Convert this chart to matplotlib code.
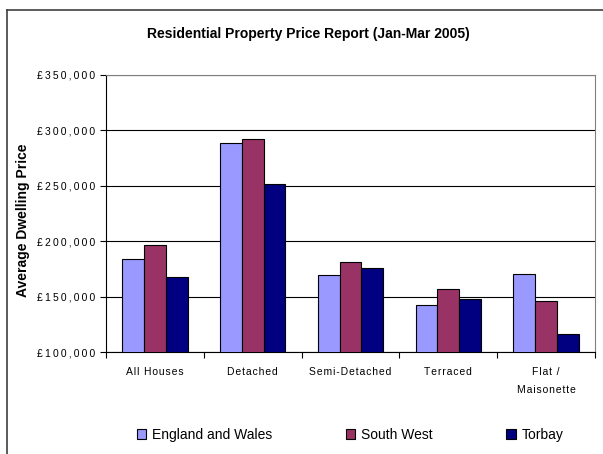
import numpy as np
import matplotlib
matplotlib.use("Agg")
import matplotlib.pyplot as plt
from matplotlib.lines import Line2D
from matplotlib.ticker import FuncFormatter

plt.rcParams["font.family"] = ["Liberation Sans", "DejaVu Sans"]

# ---------------------------------------------------------------------------
# Data
# ---------------------------------------------------------------------------
categories = ["All Houses", "Detached", "Semi-Detached", "Terraced", "Flat /\nMaisonette"]
series_names = ["England and Wales", "South West", "Torbay"]
england_wales = [184000, 288600, 169200, 142100, 170100]
south_west = [197000, 292000, 181000, 157200, 145700]
torbay = [167700, 251900, 175500, 147500, 116200]
colors = ["#9999FF", "#993366", "#000080"]
y_ticks = [100000, 150000, 200000, 250000, 300000, 350000]


def spaced(s, gap="\u2009"):
    """Mimic the wide letter spacing of the original axis labels."""
    return "\n".join(gap.join(line) for line in s.split("\n"))


# ---------------------------------------------------------------------------
# Figure
# ---------------------------------------------------------------------------
fig = plt.figure(figsize=(6.03, 4.54), dpi=100)
ax = fig.add_axes([106 / 603, 1 - 352 / 454, (595 - 106) / 603, (352 - 75) / 454])

x = np.arange(len(categories))
width = 0.667 / 3
for i, (vals, name) in enumerate(zip([england_wales, south_west, torbay], series_names)):
    ax.bar(x + (i - 1) * width, vals, width, color=colors[i], edgecolor="black",
           linewidth=0.8, label=name, zorder=3)

ax.set_xlim(-0.5, len(categories) - 0.5)
ax.set_ylim(100000, 350000)
ax.set_yticks(y_ticks)
ax.yaxis.set_major_formatter(FuncFormatter(lambda v, p: spaced(f"£{int(v):,}")))
ax.grid(axis="y", color="black", linewidth=0.8, zorder=0)

# category labels between boundary ticks
ax.set_xticks(np.arange(len(categories) + 1) - 0.5)
ax.set_xticklabels([])
ax.set_xticks(x, minor=True)
ax.set_xticklabels([spaced(c, "\u200a") for c in categories], minor=True, fontsize=7.5)
ax.tick_params(axis="x", which="minor", length=0, pad=11)
ax.tick_params(axis="x", which="major", length=4, direction="out")
ax.tick_params(axis="y", length=4, direction="out", labelsize=7.5, pad=4)
for lab in ax.get_xticklabels(minor=True):
    lab.set_linespacing(2.0)

for side in ["top", "right"]:
    ax.spines[side].set_color("#808080")
    ax.spines[side].set_linewidth(0.8)
for side in ["left", "bottom"]:
    ax.spines[side].set_color("black")
    ax.spines[side].set_linewidth(0.8)

ax.set_ylabel("Average Dwelling Price", fontsize=10, fontweight="bold")
ax.yaxis.set_label_coords((30 - 106) / 489, (352 - 220) / 277)
fig.text(308 / 603, 1 - 34 / 454, "Residential Property Price Report (Jan-Mar 2005)",
         ha="center", va="center", fontsize=10, fontweight="bold")

ax.legend(loc="center", bbox_to_anchor=(350 / 603, 1 - 435 / 454),
          bbox_transform=fig.transFigure, ncol=3, frameon=False, fontsize=10,
          handlelength=0.7, handleheight=0.7, handletextpad=0.4, columnspacing=5.3)

# outer chart frame (clipped at right and bottom)
fig.add_artist(Line2D([7 / 603, 7 / 603], [0, 1 - 10 / 454], transform=fig.transFigure,
                      color="#404040", linewidth=1.2))
fig.add_artist(Line2D([7 / 603, 1], [1 - 10 / 454, 1 - 10 / 454], transform=fig.transFigure,
                      color="#404040", linewidth=1.2))

fig.savefig("out.png", dpi=100)
plt.close(fig)
